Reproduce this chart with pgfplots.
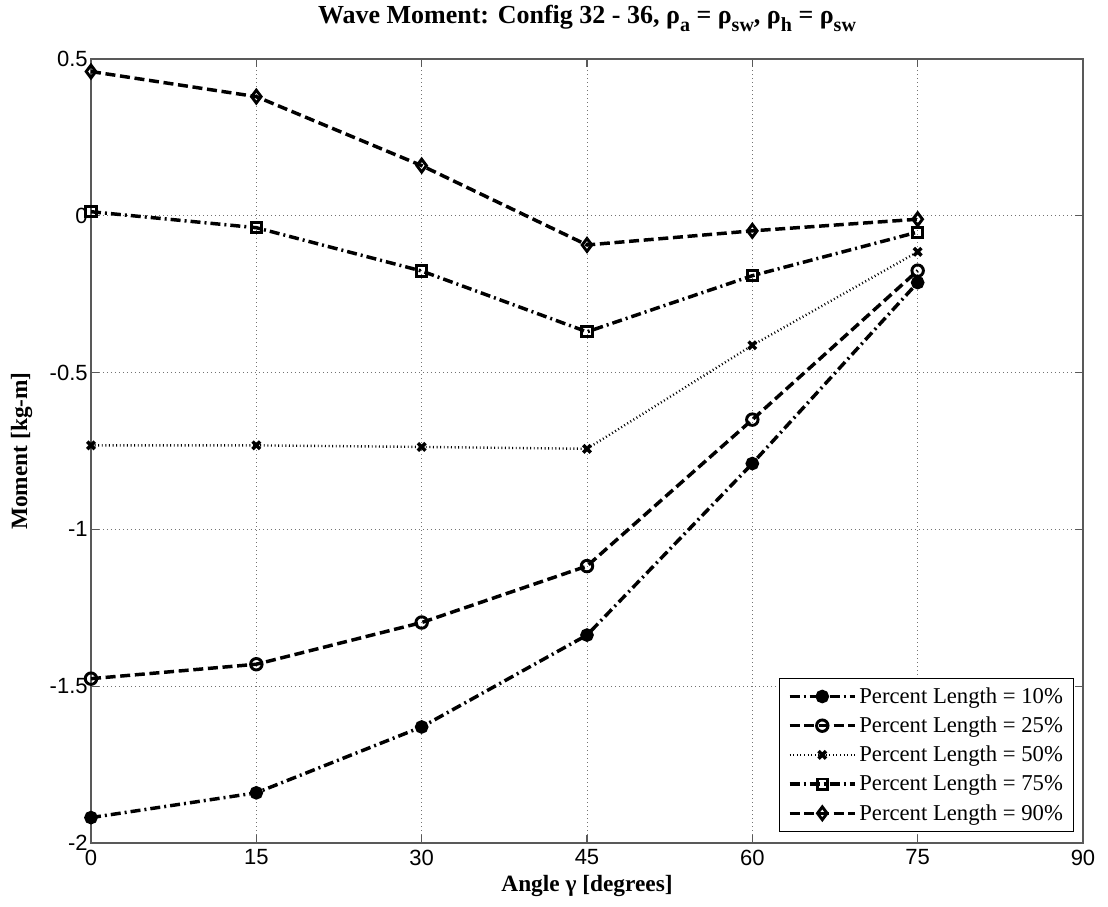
\documentclass[border=0pt]{standalone}
\usepackage{fontspec}
\setmainfont{Liberation Serif}
\newfontfamily\ticksans{Liberation Sans}
\usepackage{pgfplots}
\pgfplotsset{compat=1.18}
\newcommand{\sub}[1]{\raisebox{-0.6ex}{\fontsize{15}{15}\selectfont #1}}
\begin{document}
\begin{tikzpicture}
\path[use as bounding box] (-68.25pt,-48pt) rectangle (762.75pt,632.25pt);
\begin{axis}[
  at={(0,0)}, anchor=south west,
  scale only axis, width=744pt, height=588pt,
  xmin=0, xmax=90, ymin=-2, ymax=0.5,
  xtick={0,15,30,45,60,75,90},
  xticklabels={0,15,30,45,60,75,90},
  ytick={-2,-1.5,-1,-0.5,0,0.5},
  yticklabels={-2,-1.5,-1,-0.5,0,0.5},
  tick label style={font=\ticksans\fontsize{16.5}{16.5}\selectfont},
  xticklabel style={yshift=-1.5pt},
  yticklabel style={xshift=1pt},
  tick align=inside, major tick length=6pt,
  xtick pos=both, ytick pos=both,
  axis line style={black!65, line width=0.8pt},
  every tick/.style={black!65, line width=0.8pt},
  grid=major,
  major grid style={black!55, dash pattern=on 0.8pt off 2.2pt, line width=0.6pt},
  title={Wave Moment: Config 32 - 36, ρ\sub{a} = ρ\sub{sw}, ρ\sub{h} = ρ\sub{sw}},
  title style={font=\bfseries\fontsize{19.5}{22}\selectfont, anchor=base, at={(axis description cs:0.5,1)}, yshift=20.25pt},
  xlabel={Angle γ [degrees]},
  xlabel style={font=\bfseries\fontsize{17.5}{20}\selectfont, anchor=center, at={(axis description cs:0.5,0)}, yshift=-32pt},
  ylabel={Moment [kg-m]},
  ylabel style={font=\bfseries\fontsize{17.5}{20}\selectfont, anchor=center, at={(axis description cs:0,0.5)}, yshift=52pt},
  legend style={at={(0.991,0.014)}, anchor=south east, font=\fontsize{17}{20}\selectfont,
    draw=black, line width=0.8pt, fill=white, row sep=4.6pt, inner xsep=6pt, inner ysep=5pt},
  legend cell align=left,
  legend image code/.code={%
    \draw[mark repeat=2,mark phase=2,#1] plot coordinates {(0pt,0pt) (24.5pt,0pt) (49pt,0pt)};},
  every axis plot/.append style={black, line width=2.6pt, mark options={solid, line width=2.2pt}},
]
\addplot[dash pattern=on 7.5pt off 3pt on 1.5pt off 3pt, mark=*, mark size=4pt] coordinates {
(0,-1.919) (15,-1.840) (30,-1.630) (45,-1.337) (60,-0.790) (75,-0.213)};
\addlegendentry{Percent Length = 10\%}
\addplot[dash pattern=on 7.5pt off 3.5pt, mark=o, mark size=4.3pt] coordinates {
(0,-1.476) (15,-1.430) (30,-1.297) (45,-1.117) (60,-0.650) (75,-0.175)};
\addlegendentry{Percent Length = 25\%}
\addplot[line width=1.8pt, dash pattern=on 0.7pt off 2pt, mark=x, mark size=4pt, mark options={solid, line width=2.6pt}] coordinates {
(0,-0.732) (15,-0.732) (30,-0.737) (45,-0.743) (60,-0.413) (75,-0.115)};
\addlegendentry{Percent Length = 50\%}
\addplot[dash pattern=on 7.5pt off 3pt on 1.5pt off 3pt, mark=square, mark size=3.8pt] coordinates {
(0,0.013) (15,-0.038) (30,-0.176) (45,-0.370) (60,-0.191) (75,-0.052)};
\addlegendentry{Percent Length = 75\%}
\addplot[dash pattern=on 7.5pt off 3.5pt, mark=diamond, mark size=4.8pt] coordinates {
(0,0.460) (15,0.380) (30,0.160) (45,-0.093) (60,-0.048) (75,-0.011)};
\addlegendentry{Percent Length = 90\%}
\end{axis}
\end{tikzpicture}
\end{document}
